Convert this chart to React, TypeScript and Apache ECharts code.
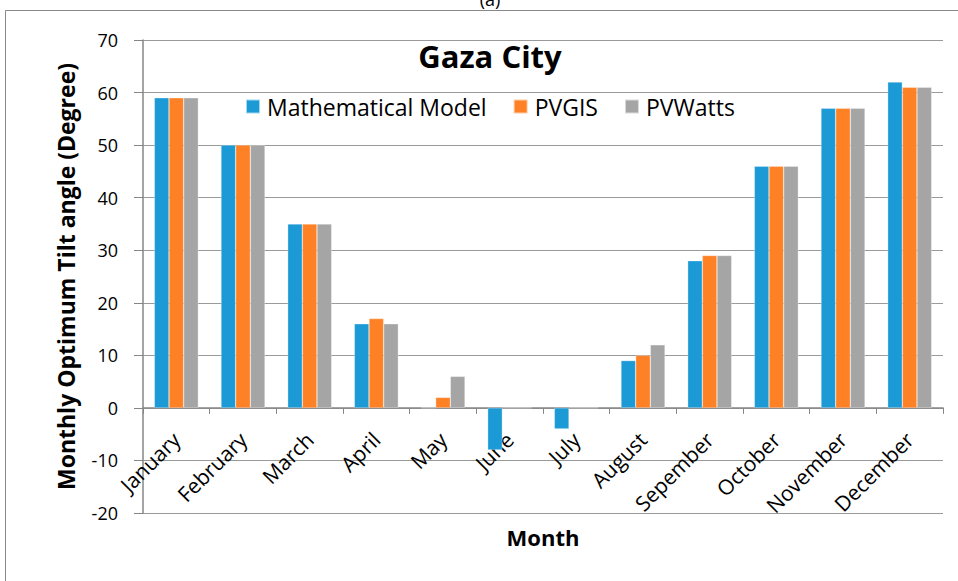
import React, { useEffect, useRef } from "react";
import * as echarts from "echarts";

const months = ["January","February","March","April","May","June","July","August","Sepember","October","November","December"];
const mathModel = [59, 50, 35, 16, 0, -8, -4, 9, 28, 46, 57, 62];
const pvgis = [59, 50, 35, 17, 2, 0, 0, 10, 29, 46, 57, 61];
const pvwatts = [59, 50, 35, 16, 6, 0, 0, 12, 29, 46, 57, 61];
const seriesNames = ["Mathematical Model", "PVGIS", "PVWatts"];
const colors = ["#1B9AD6", "#FF8125", "#A5A5A5"];
const yMin = -20;
const yMax = 70;
const yStep = 10;

const FONT = "'Open Sans', sans-serif";
const W = 958;
const H = 581;
const GRID_TOP = 40;
const GRID_BOTTOM = 68;

export default function App() {
  const ref = useRef<HTMLDivElement>(null);
  useEffect(() => {
    const chart = echarts.init(ref.current!, null, { renderer: "svg" });
    const datas = [mathModel, pvgis, pvwatts];
    const gridH = H - GRID_TOP - GRID_BOTTOM;
    const zeroOffset = -((0 - yMin) / (yMax - yMin)) * gridH;
    chart.setOption({
      animation: false,
      backgroundColor: "#ffffff",
      title: {
        text: "Gaza City",
        left: 490,
        top: 40,
        padding: 0,
        textAlign: "center",
        textStyle: { fontFamily: FONT, fontSize: 31, fontWeight: "bold", color: "#000" },
      },
      legend: {
        left: 245,
        top: 95,
        padding: 0,
        itemWidth: 14,
        itemHeight: 14,
        itemGap: 26,
        icon: "rect",
        textStyle: { fontFamily: FONT, fontSize: 23, lineHeight: 22, color: "#000", padding: [0, 0, 0, 2] },
        data: seriesNames,
      },
      grid: { left: 143, right: 15, top: GRID_TOP, bottom: GRID_BOTTOM, containLabel: false, outerBoundsMode: "none" },
      xAxis: {
        type: "category",
        data: months,
        position: "bottom",
        offset: zeroOffset,
        name: "Month",
        nameLocation: "middle",
        nameGap: 118,
        nameMoveOverlap: false,
        nameTextStyle: { fontFamily: FONT, fontSize: 22, fontWeight: "bold", color: "#000" },
        axisLine: { onZero: false, lineStyle: { color: "#868686", width: 1.5 } },
        axisTick: { show: true, length: 6, alignWithLabel: false, lineStyle: { color: "#868686" } },
        axisLabel: {
          rotate: 45,
          interval: 0,
          margin: 28,
          fontFamily: FONT,
          fontSize: 21,
          color: "#000",
        },
      },
      yAxis: {
        type: "value",
        min: yMin,
        max: yMax,
        interval: yStep,
        name: "Monthly Optimum Tilt angle (Degree)",
        nameLocation: "middle",
        nameGap: 66,
        nameTextStyle: { fontFamily: FONT, fontSize: 23, fontWeight: "bold", color: "#000" },
        axisLine: { show: true, lineStyle: { color: "#868686", width: 1.5 } },
        axisTick: { show: true, length: 9, lineStyle: { color: "#868686" } },
        axisLabel: { fontFamily: FONT, fontSize: 18, color: "#000", margin: 25 },
        splitLine: { show: true, lineStyle: { color: "#9a9a9a", width: 1.2 } },
      },
      series: datas.map((d, i) => ({
        type: "bar",
        name: seriesNames[i],
        data: d,
        barGap: "0%",
        barCategoryGap: "34%",
        itemStyle: { color: colors[i], borderColor: "rgba(255,255,255,0.6)", borderWidth: 0.5 },
      })),
      graphic: [
        {
          type: "rect",
          shape: { x: 5.5, y: 10.5, width: 1000, height: 700 },
          style: { fill: "none", stroke: "#898989", lineWidth: 1 },
          silent: true,
          z: -1,
        },
        {
          type: "text",
          x: 490,
          y: 8,
          style: { text: "(a)", fontFamily: FONT, fontSize: 18, fill: "#000", textAlign: "center", textVerticalAlign: "bottom" },
        },
      ],
    });
    return () => chart.dispose();
  }, []);
  return <div ref={ref} style={{ position: "fixed", left: 0, top: 0, width: W, height: H, background: "#fff" }} />;
}
